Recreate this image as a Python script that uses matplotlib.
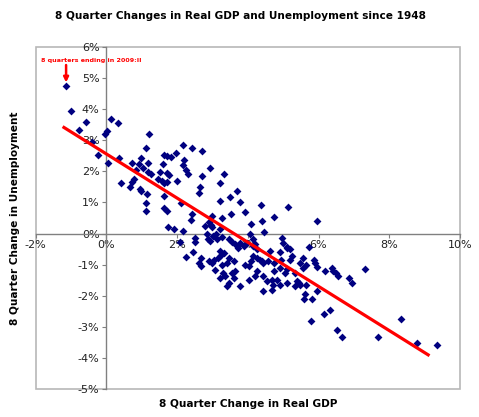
"""
8 quarter changes in real GDP vs unemployment rate, quarterly since 1948,
with the least-squares (Okun) line drawn through the cloud.
"""
import matplotlib
matplotlib.use("Agg")
import matplotlib.pyplot as plt
import numpy as np
from matplotlib.patches import Rectangle

# 8-quarter % change in real GDP (x) and change in unemployment, pct points (y)
gdp_chg = [
    -1.14, -0.99, -0.77, -0.59, -0.42, -0.25, -0.05, 0.02, 0.04, 0.14, 0.34, 0.36, 0.40,
    1.21, 2.17, 2.41, 1.13, 1.62, 1.72, 1.84, 1.96, 0.97, 0.71, 1.19, 1.59, 2.20, 2.18,
    0.91, 1.03, 0.84, 1.17, 1.26, 1.53, 1.70, 1.76, 2.25, 2.32, 0.78, 0.73, 0.67, 1.47,
    1.58, 1.62, 1.71, 2.00, 0.94, 0.99, 1.16, 2.62, 2.66,
    1.12, 1.12, 1.64, 1.64, 1.71, 2.11, 2.42, 2.39, 1.73, 1.90, 2.18,
    2.70, 2.94, 2.70, 3.33, 3.21, 3.70, 3.49, 3.77, 3.21, 4.36, 5.15, 3.91, 3.53, 4.75,
    3.00, 3.28, 4.39, 2.90, 2.96, 3.00, 2.78, 3.22, 4.08, 4.47, 5.97, 4.06, 4.97, 4.16,
    2.09, 2.51, 2.51, 2.25, 2.44, 2.68, 2.62, 2.68,
    2.84, 3.01, 3.26, 2.92, 3.13, 3.46, 3.55, 3.64, 3.77, 3.88, 4.14, 4.21, 4.27, 4.99,
    5.12, 5.18, 4.63,
    2.89, 2.98, 3.03, 3.17, 3.24, 3.34, 3.08, 3.27, 3.41, 3.46, 3.60, 3.64, 3.93, 4.02,
    4.09, 4.16, 4.26, 4.33, 4.40, 4.44, 4.58, 4.75, 4.92, 4.94, 5.18, 5.12, 5.48,
    3.31, 3.22, 3.36, 3.55, 3.60, 3.46, 3.41, 3.79, 4.02, 4.21, 4.26, 4.44, 4.54, 4.68,
    4.82, 4.92, 5.06, 5.12, 5.34, 5.39, 5.46, 4.44, 4.68,
    2.86, 3.11, 3.72, 3.97, 3.22, 4.75, 4.92, 4.70, 5.34, 5.10, 5.25,
    5.73, 5.57, 5.65, 5.55, 5.86, 5.90, 5.97, 6.19, 6.38, 6.42, 6.49, 6.56, 6.85, 6.96,
    7.30, 5.48, 5.65, 5.62, 5.60, 5.81, 5.95, 5.79, 6.16, 6.31, 6.52, 6.67, 7.69, 8.33,
    8.79, 9.35,
]
unemp_chg = [
    4.74, 3.93, 3.34, 3.58, 2.95, 2.53, 3.21, 3.29, 2.27, 3.67, 3.54, 2.44, 1.64,
    3.21, 2.85, 2.74, 2.74, 2.54, 2.51, 2.47, 2.60, 2.43, 2.28, 2.28, 2.24, 2.38, 2.21,
    2.23, 2.11, 2.06, 1.98, 1.91, 1.98, 1.95, 1.87, 2.04, 1.90, 1.74, 1.66, 1.50, 1.74,
    1.69, 1.63, 1.65, 1.69, 1.44, 1.36, 1.28, 1.31, 1.50,
    0.99, 0.72, 1.20, 0.83, 0.72, 0.99, 0.63, 0.45, 0.20, 0.15, 0.09,
    2.67, 2.12, 1.84, 1.91, 1.61, 1.37, 1.17, 1.02, 1.06, 0.93, 0.87, 0.68, 0.62, 0.54,
    0.55, 0.49, 0.41, 0.36, 0.29, 0.22, 0.25, 0.15, 0.30, 0.05, 0.41, -0.03, -0.14, -0.19,
    -0.28, -0.14, -0.27, -0.76, -0.59, -0.78, -0.96, -1.05,
    -0.03, -0.09, -0.11, -0.25, -0.19, -0.19, -0.28, -0.35, -0.30, -0.39, -0.41, -0.32,
    -0.49, -0.30, -0.43, -0.51, -0.57,
    -0.89, -0.94, -0.84, -0.78, -0.68, -0.64, -1.16, -1.00, -0.94, -0.78, -0.89, -1.21,
    -1.00, -1.05, -0.89, -0.73, -0.78, -0.84, -0.89, -0.94, -0.89, -0.94, -0.60, -0.84,
    -0.84, -1.14, -0.94,
    -1.26, -1.42, -1.37, -1.26, -1.42, -1.59, -1.69, -1.69, -1.48, -1.37, -1.21, -1.37,
    -1.53, -1.48, -1.48, -1.64, -1.26, -1.59, -1.26, -1.53, -1.59, -1.85, -1.80,
    -0.18, -0.02, -0.47, -0.30, -0.55, -1.21, -1.10, -1.64, -1.69, -0.46, -0.73,
    -0.44, -0.78, -1.00, -1.10, -0.84, -0.94, -1.08, -1.21, -1.10, -1.19, -1.26, -1.35,
    -1.42, -1.59, -1.14, -1.64, -1.66, -1.96, -2.12, -2.12, -1.85, -2.81, -2.58, -2.45,
    -3.11, -3.33, -3.32, -2.74, -3.51, -3.58,
]

# trend line as drawn in the original (Excel linear trendline)
fit_intercept = 2.56
fit_slope = -0.71
fit_x = np.array([-1.2, 9.1])

x_ticks = np.arange(-2, 11, 2)
y_ticks = np.arange(-5, 7, 1)

fig = plt.figure(figsize=(4.79, 4.17), dpi=100)
ax = fig.add_axes([0.0745, 0.0671, 0.8858, 0.8202])

ax.scatter(gdp_chg, unemp_chg, marker="D", s=16, color="#000080", linewidths=0, zorder=3)
ax.plot(fit_x, fit_intercept + fit_slope * fit_x, color="#ff0000", lw=2.3, zorder=4)

ax.set_xlim(-2, 10)
ax.set_ylim(-5, 6)

# axes cross at zero, outer frame in light grey
for side in ("top", "right"):
    ax.spines[side].set_visible(False)
ax.spines["left"].set_position(("data", 0))
ax.spines["bottom"].set_position(("data", 0))
for side in ("left", "bottom"):
    ax.spines[side].set_color("#808080")
    ax.spines[side].set_linewidth(1.0)
ax.add_patch(Rectangle((0, 0), 1, 1, transform=ax.transAxes, fill=False,
                       edgecolor="#b8b8b8", lw=1.2, clip_on=False, zorder=0))

ax.set_xticks(x_ticks)
ax.set_xticklabels([f"{v}%" for v in x_ticks])
ax.set_yticks(y_ticks)
ax.set_yticklabels([f"{v}%" for v in y_ticks])
ax.tick_params(direction="out", length=3, width=0.8, color="#808080",
               labelsize=8, labelcolor="#222222", pad=2)

# note on the latest observation
ax.text(-1.84, 5.57, "8 quarters ending in 2009:II", color="#ff0000",
        fontsize=4.6, fontweight="bold", va="center", ha="left")
ax.annotate("", xy=(gdp_chg[0], 4.86), xytext=(gdp_chg[0], 5.42),
            arrowprops=dict(arrowstyle="-|>", color="#ff0000", lw=1.8,
                            mutation_scale=7, shrinkA=0, shrinkB=0))

fig.text(0.503, 1 - 16 / 417, "8 Quarter Changes in Real GDP and Unemployment since 1948",
         ha="center", va="center", fontsize=7.6, fontweight="bold")
fig.text(248 / 479, 1 - 404 / 417, "8 Quarter Change in Real GDP",
         ha="center", va="center", fontsize=7.6, fontweight="bold")
fig.text(15 / 479, 1 - 218 / 417, "8 Quarter Change in Unemployment",
         ha="center", va="center", rotation=90, fontsize=7.6, fontweight="bold")

fig.savefig("out.png", dpi=100)
